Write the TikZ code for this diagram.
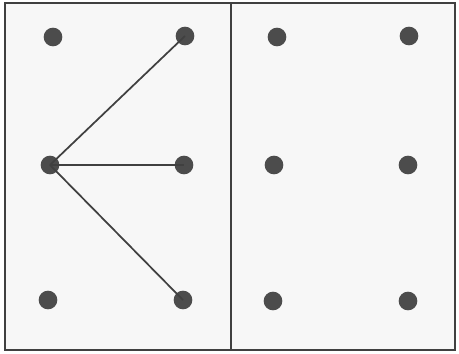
\documentclass[tikz,border=0pt]{standalone}
\usepackage{tikz}
\usetikzlibrary{positioning}

\begin{document}
\begin{tikzpicture}[x=0.75pt, y=-0.75pt, dot/.style={circle,fill=black!70,inner sep=0pt,minimum size=14pt}, edge/.style={draw=black!75,line width=1.3pt}]
  \useasboundingbox (0,0) rectangle (459,353);
  \draw[black!75, line width=1.4pt, fill=black!3] (5,3) rectangle (231,350);
  \draw[black!75, line width=1.4pt, fill=black!3] (231,3) rectangle (455,350);
  % left panel
  \node[dot] (a1) at (53,37) {};
  \node[dot] (a2) at (185,36) {};
  \node[dot] (a3) at (50,165) {};
  \node[dot] (a4) at (184,165) {};
  \node[dot] (a5) at (48,300) {};
  \node[dot] (a6) at (183,300) {};
  % right panel
  \node[dot] (b1) at (277,37) {};
  \node[dot] (b2) at (409,36) {};
  \node[dot] (b3) at (274,165) {};
  \node[dot] (b4) at (408,165) {};
  \node[dot] (b5) at (273,301) {};
  \node[dot] (b6) at (408,301) {};
  \draw[edge] (a3.center)--(a2.center); \draw[edge] (a3.center)--(a4.center); \draw[edge] (a3.center)--(a6.center);
\end{tikzpicture}
\end{document}
